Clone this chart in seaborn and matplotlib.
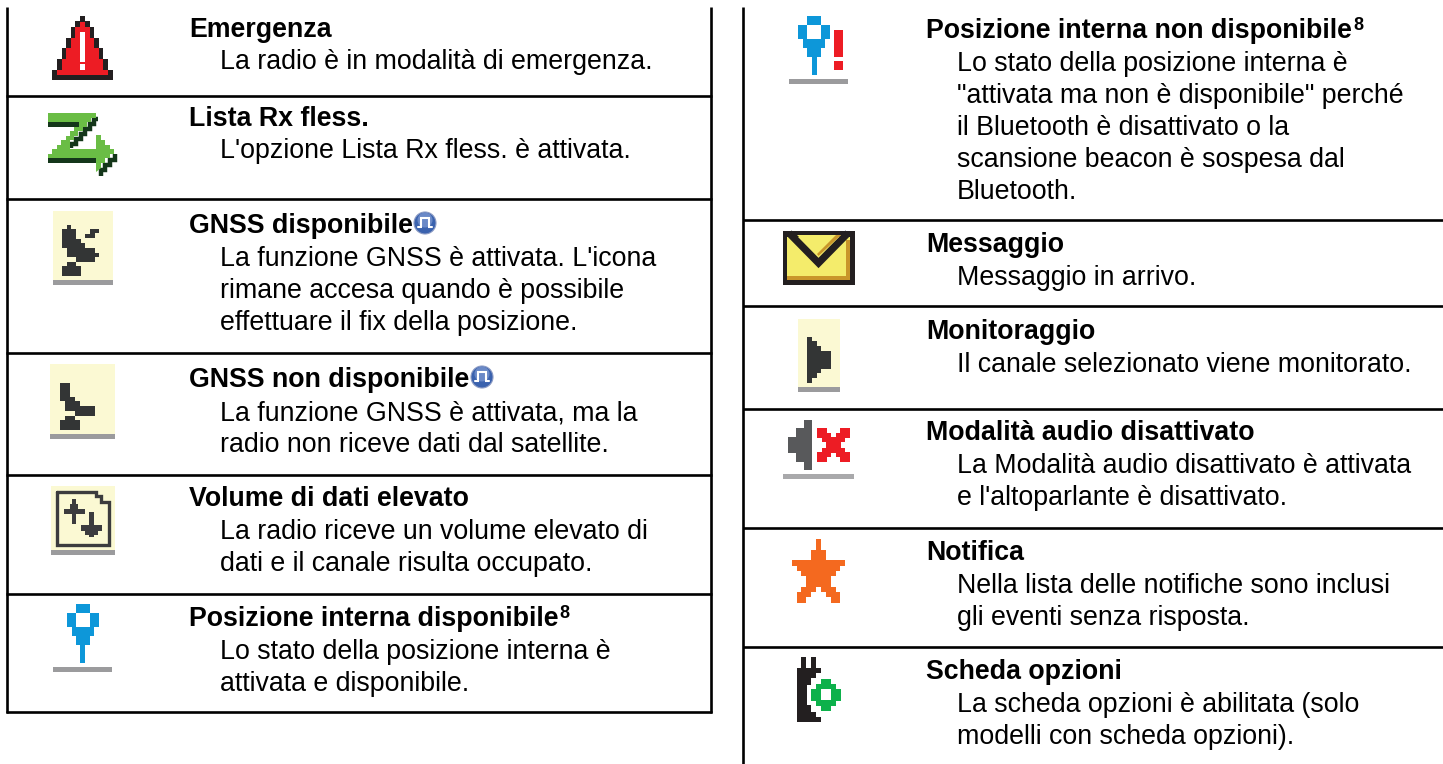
import matplotlib
matplotlib.use("Agg")
import matplotlib.pyplot as plt
from matplotlib.patches import Circle, Rectangle
import seaborn as sns

# testo delle due colonne: (titolo, y titolo, righe, y righe)
left_entries = [
    ("Emergenza", 37, ["La radio è in modalità di emergenza."], [69]),
    ("Lista Rx fless.", 126, ["L'opzione Lista Rx fless. è attivata."], [158]),
    ("GNSS disponibile", 233, ["La funzione GNSS è attivata. L'icona", "rimane accesa quando è possibile", "effettuare il fix della posizione."], [266, 298, 330]),
    ("GNSS non disponibile", 387, ["La funzione GNSS è attivata, ma la", "radio non riceve dati dal satellite."], [420, 452]),
    ("Volume di dati elevato", 506, ["La radio riceve un volume elevato di", "dati e il canale risulta occupato."], [539, 571]),
    ("Posizione interna disponibile", 626, ["Lo stato della posizione interna è", "attivata e disponibile."], [659, 691]),
]
right_entries = [
    ("Posizione interna non disponibile", 38, ["Lo stato della posizione interna è", "\"attivata ma non è disponibile\" perché", "il Bluetooth è disattivato o la", "scansione beacon è sospesa dal", "Bluetooth."], [71, 103, 135, 167, 199]),
    ("Messaggio", 252, ["Messaggio in arrivo."], [285]),
    ("Monitoraggio", 339, ["Il canale selezionato viene monitorato."], [372]),
    ("Modalità audio disattivato", 440, ["La Modalità audio disattivato è attivata", "e l'altoparlante è disattivato."], [473, 505]),
    ("Notifica", 560, ["Nella lista delle notifiche sono inclusi", "gli eventi senza risposta."], [593, 625]),
    ("Scheda opzioni", 679, ["La scheda opzioni è abilitata (solo", "modelli con scheda opzioni)."], [712, 744]),
]
superscripts = ["Posizione interna disponibile", "Posizione interna non disponibile"]
left_rules = [96, 199, 353, 475, 594, 712]
right_rules = [220, 306, 409, 528, 647]

YELLOW = "#FBF9D3"
GREY = "#9B9B9D"
DARK = "#333535"
BLUE = "#0D97D9"
RED = "#ED1C24"
FS = 19.25

sns.set_theme(style="white")
plt.rcParams["font.family"] = ["Liberation Sans", "DejaVu Sans"]

fig = plt.figure(figsize=(14.43, 7.64), dpi=100)
ax = fig.add_axes([0, 0, 1, 1])
ax.set_xlim(0, 1443)
ax.set_ylim(764, 0)
ax.axis("off")
sns.despine(ax=ax, left=True, bottom=True)


def box(x0, y0, x1, y1, color, z=2):
    ax.add_patch(Rectangle((x0, y0), x1 - x0, y1 - y0, fc=color, ec="none", zorder=z))


def poly(pts, color, z=3):
    ax.fill([p[0] for p in pts], [p[1] for p in pts], fc=color, ec="none", zorder=z)


def mirror(half, cx):
    return half + [(2 * cx - x, y) for x, y in reversed(half)]


def pin(cx, top):
    for dx0, dx1, y0, y1 in [(-7, 7, 0, 9), (-16, 16, 9, 23), (-11, 11, 23, 32), (-7, 7, 32, 41), (-2.5, 2.5, 41, 59)]:
        box(cx + dx0, top + y0, cx + dx1, top + y1, BLUE)
    box(cx - 7, top + 9, cx + 7, top + 23, "white", 4)


def pulse_badge(cx, cy):
    ax.add_patch(Circle((cx, cy), 11, fc="#3A62AE", ec="#8D9CC4", lw=0.8, zorder=3))
    ax.add_patch(Circle((cx, cy - 3), 7.5, fc="#7F9BD2", ec="none", alpha=0.7, zorder=4))
    ax.plot([cx - 7, cx - 4, cx - 4, cx + 4, cx + 4, cx + 7], [cy + 4, cy + 4, cy - 5, cy - 5, cy + 4, cy + 4],
            color="white", lw=1.5, zorder=5, solid_joinstyle="miter")


def stair(pts, color):
    ax.plot([p[0] for p in pts], [p[1] for p in pts], color=color, lw=3.2, zorder=3, solid_capstyle="butt", solid_joinstyle="miter")


# griglia
for x, y0, y1 in [(6.5, 7, 713), (711, 7, 713), (743, 7, 764)]:
    ax.plot([x, x], [y0, y1], color="black", lw=1.9, solid_capstyle="butt", zorder=1)
for y in left_rules:
    ax.plot([6, 712], [y, y], color="black", lw=1.9, solid_capstyle="butt", zorder=1)
for y in right_rules:
    ax.plot([743, 1443], [y, y], color="black", lw=1.9, solid_capstyle="butt", zorder=1)

# testi
fig.canvas.draw()
renderer = fig.canvas.get_renderer()
for entries, xh, xb in [(left_entries, 189, 220), (right_entries, 926, 957)]:
    for title, yt, lines, ys in entries:
        t = ax.text(xh, yt, title, fontsize=FS, fontweight="bold", color="black", va="baseline", ha="left")
        if title in superscripts:
            ext = t.get_window_extent(renderer)
            ax.text(ext.x1 + 1, yt - 8, "8", fontsize=13, fontweight="bold", color="black", va="baseline", ha="left")
        for line, y in zip(lines, ys):
            ax.text(xb, y, line, fontsize=FS, color="black", va="baseline", ha="left")

pulse_badge(425, 223)
pulse_badge(482, 377)

# emergenza
poly(mirror([(85, 16), (85, 21), (90, 21), (90, 27), (94, 27), (94, 38), (99, 38), (99, 48), (103, 48), (103, 59), (108, 59), (108, 70), (113, 70), (113, 80)], 82.7), "#231F20")
poly(mirror([(85, 22), (85, 27), (90, 27), (90, 38), (94, 38), (94, 48), (99, 48), (99, 59), (103, 59), (103, 70), (108, 70), (108, 75)], 82.7), RED, 4)
box(80, 32, 85, 62, "white", 5)
box(80, 64, 85, 70, "white", 5)

# lista rx
box(48, 122, 79, 127, "#14361A")
box(48, 158, 96, 163, "#14361A")
stair([(98, 119), (94, 119), (94, 124), (90, 124), (90, 129), (85, 129), (85, 134), (81, 134), (81, 139), (76, 139), (76, 144), (71, 144), (71, 148)], "#14361A")
stair([(115, 154), (115, 160), (110, 160), (110, 165), (105, 165), (105, 170), (101, 170), (101, 176)], "#14361A")
poly([(48, 113), (96, 113), (96, 118), (91, 118), (91, 122), (87, 122), (87, 127), (83, 127), (83, 131), (78, 131), (78, 136), (74, 136), (74, 140), (70, 140), (70, 149),
      (96, 149), (96, 135), (101, 135), (101, 140), (105, 140), (105, 145), (110, 145), (110, 149), (114, 149), (114, 154), (110, 154), (110, 158), (105, 158), (105, 163), (101, 163), (101, 168), (96, 172),
      (96, 158), (48, 158), (48, 154), (52, 154), (52, 149), (57, 149), (57, 145), (61, 145), (61, 140), (66, 140), (66, 136), (70, 136), (70, 131), (74, 131), (74, 127), (79, 127), (79, 122), (48, 122)], "#6ABD45", 4)

# gnss disponibile
box(53, 211, 113, 280, YELLOW)
box(53, 280, 113, 285, GREY)
poly([(62, 229), (67, 229), (67, 225), (71, 225), (71, 229), (76, 229), (76, 239), (81, 239), (81, 243), (85, 243), (85, 248), (95, 248), (95, 253), (99, 253), (99, 257), (95, 257), (95, 262), (76, 262), (76, 257), (67, 257), (67, 248), (62, 248)], DARK)
poly([(67, 262), (76, 262), (76, 266), (81, 266), (81, 276), (62, 276), (62, 266), (67, 266)], DARK)
poly([(90, 229), (99, 229), (99, 233), (95, 233), (95, 238), (85, 238), (85, 234), (90, 234)], DARK)

# gnss non disponibile
box(50, 364, 115, 434, YELLOW)
box(50, 434, 115, 439, GREY)
poly([(60, 383), (70, 383), (70, 397), (75, 397), (75, 401), (80, 401), (80, 406), (95, 406), (95, 416), (75, 416), (75, 411), (65, 411), (65, 401), (60, 401)], DARK)
poly([(65, 416), (75, 416), (75, 420), (80, 420), (80, 430), (60, 430), (60, 420), (65, 420)], DARK)

# volume dati
box(51, 486, 115, 550, YELLOW)
box(51, 550, 115, 555, GREY)
ax.plot([56.5, 96, 96, 101, 101, 108.5, 108.5, 56.5, 56.5], [491.5, 491.5, 496, 496, 502, 502, 544.5, 544.5, 491.5], color="#3C3C3E", lw=2.4, zorder=3, solid_joinstyle="miter")
for b in [(72, 499, 76, 524), (70, 504, 78, 509), (64, 509, 85, 514), (89, 512, 94, 537), (81, 525, 102, 531), (85, 531, 98, 535)]:
    box(*b, "#3C3C3E", 3)

# posizione interna
pin(82.7, 604)
box(53, 667, 112, 672, GREY)

# posizione non disponibile
pin(814, 16)
box(789, 79, 848, 84, GREY)
box(834, 30, 843, 57, RED)
box(834, 61, 843, 70, RED)

# messaggio
box(783, 231, 855, 285, "#231F20")
box(787, 237, 850, 280, "#F4EC6B", 3)
box(787, 276, 850, 280, "#C9962A", 4)
box(846, 240, 850, 280, "#C9962A", 4)
box(783, 231, 855, 235, "#231F20", 5)
ax.plot([789, 818.5, 848], [233, 263, 233], color="#231F20", lw=5.2, zorder=6, solid_joinstyle="miter", solid_capstyle="butt")
poly([(797, 235), (841, 235), (818.5, 256)], "#F4EC6B", 7)
poly([(841, 235), (836, 235), (817, 254), (818.5, 256)], "#C9962A", 8)

# monitoraggio
box(798, 319, 840, 387, YELLOW)
box(798, 387, 840, 392, GREY)
poly([(807, 337), (812, 337), (812, 341), (817, 341), (817, 346), (821, 346), (821, 351), (831, 351), (831, 369), (821, 369), (821, 373), (817, 373), (817, 378), (812, 378), (812, 383), (807, 383)], DARK)

# audio disattivato
poly([(812, 420), (812, 470), (804, 470), (804, 462), (796, 462), (796, 453), (788, 453), (788, 437), (796, 437), (796, 428), (804, 428), (804, 420)], "#58595B")
poly([(817, 428), (827, 428), (827, 433), (831, 433), (831, 437), (836, 437), (836, 433), (840, 433), (840, 428), (850, 428), (850, 438), (845, 438), (845, 442), (841, 442), (841, 448), (845, 448), (845, 452), (850, 452), (850, 462), (840, 462), (840, 457), (836, 457), (836, 453), (831, 453), (831, 457), (827, 457), (827, 462), (817, 462), (817, 452), (822, 452), (822, 448), (826, 448), (826, 442), (822, 442), (822, 438), (817, 438)], RED)
box(783, 474, 854, 479, "#A9A9AB")

# notifica
poly(mirror([(821, 539), (821, 550), (826, 550), (826, 560), (845, 560), (845, 566), (840, 566), (840, 571), (836, 571), (836, 576), (831, 576), (831, 587), (836, 587), (836, 592), (840, 592), (840, 603), (831, 603), (831, 597), (826, 597), (826, 592), (821, 592), (821, 587)], 818.5), "#F4691F")

# scheda opzioni
poly([(801, 657), (806, 657), (806, 668), (811, 668), (811, 657), (816, 657), (816, 668), (821, 668), (821, 673), (816, 673), (816, 678), (811, 678), (811, 685), (807, 685), (807, 705), (811, 705), (811, 712), (816, 712), (816, 717), (821, 717), (821, 722), (797, 722), (797, 668), (801, 668)], "#231F20")
poly([(821, 679), (831, 679), (831, 684), (836, 684), (836, 689), (841, 689), (841, 701), (836, 701), (836, 706), (831, 706), (831, 711), (821, 711), (821, 706), (816, 706), (816, 701), (811, 701), (811, 689), (816, 689), (816, 684), (821, 684)], "#0DB14B", 4)
box(821, 689, 831, 700, "white", 5)

fig.savefig("out.png", dpi=100)
